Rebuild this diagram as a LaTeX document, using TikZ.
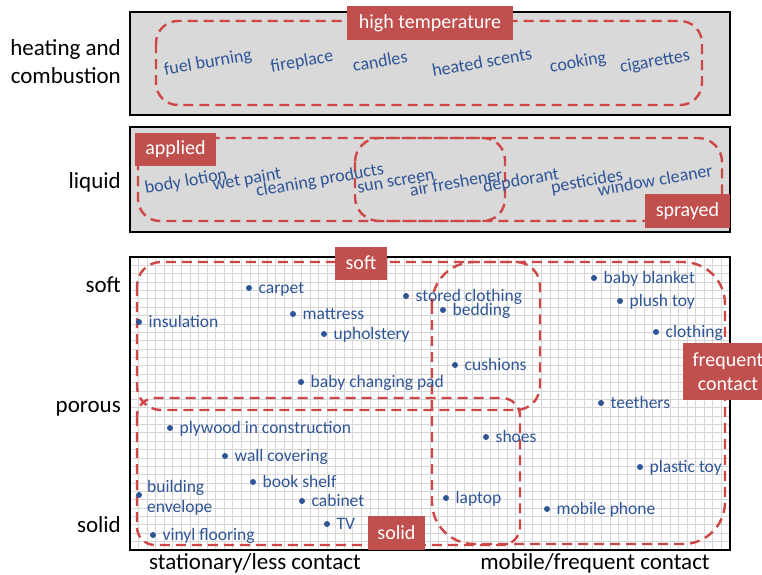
\documentclass[tikz,border=0pt]{standalone}
\usepackage{fontspec}
\setmainfont{Carlito}
\definecolor{tagred}{RGB}{192,80,77}
\definecolor{dashred}{RGB}{206,70,70}
\definecolor{itemblue}{RGB}{47,85,151}
\definecolor{panelgray}{RGB}{217,217,217}
\definecolor{gridgray}{RGB}{214,214,214}
% a marked point with its label to the right
\newcommand\spot[3]{%
  \node[dot] (#1) at (#2) {};
  \node[lab] (#1-t) at ([xshift=9.5pt,yshift=-5.5pt]#1.center) {#3};}
\begin{document}
\begin{tikzpicture}[x=1pt,y=-1pt,
  panel/.style={draw=black, line width=2.2pt},
  region/.style={draw=dashred, line width=2.4pt, dash pattern=on 10pt off 6pt},
  gridline/.style={draw=gridgray, line width=0.8pt},
  tag/.style={fill=tagred, text=white, font=\fontsize{20}{24}\selectfont,
    inner sep=0pt, align=center},
  thing/.style={text=itemblue, font=\fontsize{18}{21}\selectfont, rotate=10,
    inner sep=0pt},
  dot/.style={circle, fill=itemblue, inner sep=0pt, minimum size=6pt},
  lab/.style={text=itemblue, font=\fontsize{17.5}{20}\selectfont, inner sep=0pt,
    anchor=base west},
  axis/.style={font=\fontsize{23}{27}\selectfont, inner sep=0pt}]
\clip (0,0) rectangle (762,574);

% ---------- heating and combustion ----------
\draw[panel, fill=panelgray] (130,12) rectangle (730,115);
\draw[region, rounded corners=22pt] (156,21) rectangle (702,105);
\node[thing] (fuel) at (208,63) {fuel burning};
\node[thing] (fire) at (302,62) {fireplace};
\node[thing] (cand) at (380,61) {candles};
\node[thing] (heat) at (482,62) {heated scents};
\node[thing] (cook) at (578,63) {cooking};
\node[thing] (ciga) at (655,62) {cigarettes};
\node[tag, minimum width=166pt, minimum height=34pt] (hightemp) at (430,23) {high temperature};
\node[axis, anchor=base east] (heating) at (121,55) {heating and};
\node[axis, anchor=base east] (combust) at (121,83) {combustion};

% ---------- liquid ----------
\draw[panel, fill=panelgray] (130,127) rectangle (730,232);
\draw[region, rounded corners=22pt] (138,138) rectangle (505,221);
\draw[region, rounded corners=24pt] (355,138) rectangle (722,221);
\node[thing] (lotion) at (186,182) {body lotion};
\node[thing] (paint) at (247,180) {wet paint};
\node[thing] (clean) at (320,181) {cleaning products};
\node[thing] (sun) at (396,182) {sun screen};
\node[thing] (air) at (456,182) {air freshener};
\node[thing] (deo) at (521,181) {depdorant};
\node[thing] (pest) at (587,182) {pesticides};
\node[thing] (window) at (655,180) {window cleaner};
\node[tag, minimum width=81pt, minimum height=33pt] (applied) at (175.5,149.5) {applied};
\node[tag, minimum width=85pt, minimum height=34pt] (sprayed) at (687.5,211) {sprayed};
\node[axis, anchor=base east] (liquid) at (121,188) {liquid};

% ---------- soft / porous / solid ----------
\fill[white] (130,257) rectangle (730,550);
\foreach \i in {0,...,70}
  \draw[gridline] ({130+\i*8.5714},257) -- ({130+\i*8.5714},550);
\foreach \j in {0,...,35}
  \draw[gridline] (130,{257+\j*8.3714}) -- (730,{257+\j*8.3714});
\draw[panel] (130,257) rectangle (730,550);
\draw[region, rounded corners=24pt] (137,262) rectangle (540,410);
\draw[region, rounded corners=18pt] (137,398) rectangle (520,545);
\draw[region, rounded corners=42pt] (432,262) rectangle (725,544);

\spot{carpet}{249,288}{carpet}
\spot{insul}{139,322}{insulation}
\spot{mattress}{293,314}{mattress}
\spot{uphol}{324,334}{upholstery}
\spot{stored}{406,296}{stored clothing}
\spot{bedding}{443,310}{bedding}
\spot{cushions}{455,365}{cushions}
\spot{changing}{301,382}{baby changing pad}
\spot{blanket}{594,278}{baby blanket}
\spot{plush}{620,301}{plush toy}
\spot{clothing}{656,332}{clothing}
\spot{teethers}{601,403}{teethers}
\spot{plywood}{170,428}{plywood in construction}
\spot{wall}{225,456}{wall covering}
\spot{shoes}{486,437}{shoes}
\spot{plastic}{640,467}{plastic toy}
\spot{shelf}{253,482}{book shelf}
\spot{cabinet}{302,501}{cabinet}
\spot{laptop}{446,498}{laptop}
\spot{phone}{547,509}{mobile phone}
\spot{tv}{327,524}{TV}
\spot{vinyl}{153,535}{vinyl flooring}
\node[dot] (building) at (139,495) {};
\node[lab] (building-t) at (147,492) {building};
\node[lab] (envelope-t) at (147,512) {envelope};

\node[tag, minimum width=52pt, minimum height=33pt] (soft) at (361,263) {soft};
\node[tag, minimum width=57pt, minimum height=34pt] (solid) at (396.5,532.5) {solid};
\node[tag, minimum width=90pt, minimum height=57pt] (frequent) at (728,371.5) {frequent\\contact};

\node[axis, anchor=base east] (softax) at (121,292) {soft};
\node[axis, anchor=base east] (porousax) at (121,412) {porous};
\node[axis, anchor=base east] (solidax) at (121,532) {solid};
\node[axis, anchor=base] (stationary) at (255,569) {stationary/less contact};
\node[axis, anchor=base] (mobile) at (595,569) {mobile/frequent contact};
\end{tikzpicture}
\end{document}
